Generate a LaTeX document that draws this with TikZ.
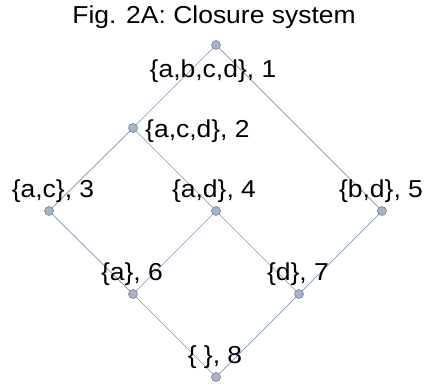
\documentclass[tikz,border=0pt]{standalone}
\usepackage{fontspec}
\setmainfont{Liberation Sans}[FakeStretch=1.08]
\usetikzlibrary{positioning}

\begin{document}
\begin{tikzpicture}[
  x=1pt, y=-1pt,
  font=\fontsize{24.5}{29}\selectfont,
  elem/.style={circle,draw=gray!90!black,fill=elemfill,inner sep=0pt,minimum size=9pt,line width=.5pt},
  cover/.style={draw=linecol,line width=.7pt},
  lbl/.style={anchor=base,inner sep=0pt}
  ]
\definecolor{elemfill}{HTML}{A3B4CC}
\definecolor{linecol}{HTML}{7F95B5}
\useasboundingbox (0,0) rectangle (425,387);
%\draw [ultra thin, lightgray] (0,0) grid[step=83] (425,387);
\node [lbl] (title) at (214,24) {Fig. 2A: Closure system};
\node [elem] (s1) at (216,45) {};
\node [elem] (s2) at (133,128) {};
\node [elem] (s3) at (49,211) {};
\node [elem] (s4) at (216,211) {};
\node [elem] (s5) at (382,211) {};
\node [elem] (s6) at (133,294) {};
\node [elem] (s7) at (299,294) {};
\node [elem] (s8) at (216,377) {};
\draw [cover] (s1) -- (s2);
\draw [cover] (s1) -- (s5);
\draw [cover] (s2) -- (s3);
\draw [cover] (s2) -- (s4);
\draw [cover] (s3) -- (s6);
\draw [cover] (s4) -- (s6);
\draw [cover] (s4) -- (s7);
\draw [cover] (s5) -- (s7);
\draw [cover] (s6) -- (s8);
\draw [cover] (s7) -- (s8);
\node [lbl] (l1) at (213,78) {\{a,b,c,d\}, 1};
\node [lbl,anchor=base west] (l2) at (145,138) {\{a,c,d\}, 2};
\node [lbl] (l3) at (53,197) {\{a,c\}, 3};
\node [lbl] (l4) at (214,197) {\{a,d\}, 4};
\node [lbl] (l5) at (381,197) {\{b,d\}, 5};
\node [lbl] (l6) at (132,280) {\{a\}, 6};
\node [lbl] (l7) at (298,280) {\{d\}, 7};
\node [lbl] (l8) at (215,363) {\{ \}, 8};
\end{tikzpicture}
\end{document}
